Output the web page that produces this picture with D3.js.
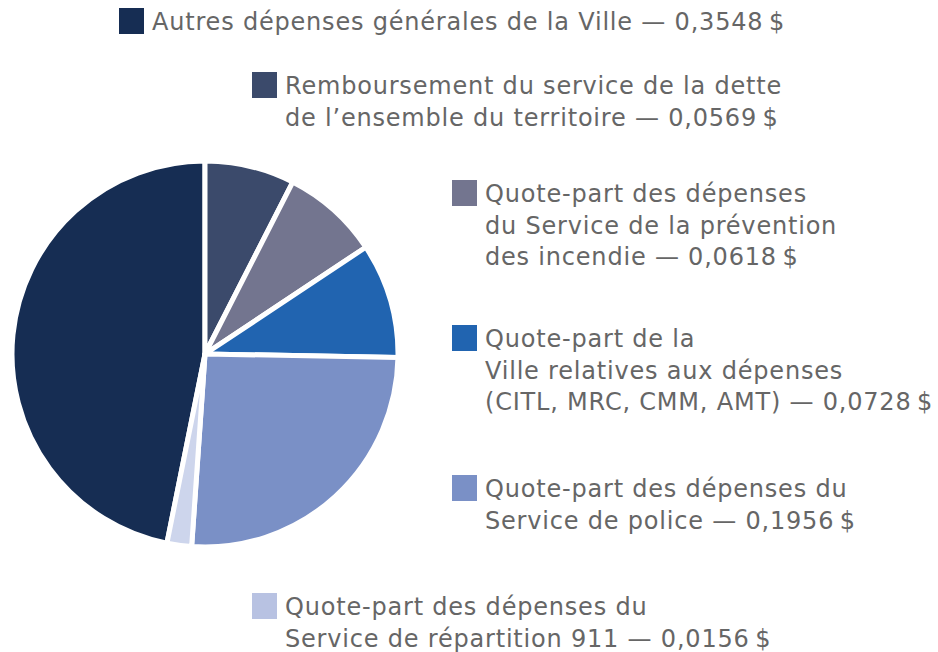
<!DOCTYPE html>
<html>
<head>
<meta charset="utf-8">
<script src="https://cdn.jsdelivr.net/npm/d3@7"></script>
<style>
  body { margin: 0; background: #fff; }
  text { font-family: "DejaVu Sans", sans-serif; fill: #666; }
</style>
</head>
<body>
<div id="chart"></div>
<script>
// categories, values and colours (legend order)
const categories = [
  ["Autres dépenses générales de la Ville — 0,3548\u202F$"],
  ["Remboursement du service de la dette", "de l’ensemble du territoire — 0,0569\u202F$"],
  ["Quote-part des dépenses", "du Service de la prévention", "des incendie — 0,0618\u202F$"],
  ["Quote-part de la", "Ville relatives aux dépenses", "(CITL, MRC, CMM, AMT) — 0,0728\u202F$"],
  ["Quote-part des dépenses du", "Service de police — 0,1956\u202F$"],
  ["Quote-part des dépenses du", "Service de répartition 911 — 0,0156\u202F$"]
];
const values = [0.3548, 0.0569, 0.0618, 0.0728, 0.1956, 0.0156];
const colors = ["#162d53", "#3b4a6b", "#73758f", "#2164b0", "#7a90c6", "#b8c2e2"];
const sliceColors = ["#162d53", "#3b4a6b", "#73758f", "#2164b0", "#7a90c6", "#cdd5ec"];

// legend placement (square top-left)
const legendPos = [[119, 8], [252, 72], [452, 180], [452, 325], [452, 475], [252, 593]];

const width = 938, height = 652;
const cx = 205, cy = 354, radius = 193;

const svg = d3.select("#chart").append("svg")
  .attr("width", width)
  .attr("height", height);

const data = values.map((v, i) => ({ i, value: v }));
const total = d3.sum(values);
const a0 = values[0] / total * 2 * Math.PI;

const pie = d3.pie()
  .sort(null)
  .value(d => d.value)
  .startAngle(-a0)
  .endAngle(2 * Math.PI - a0);

const arc = d3.arc().innerRadius(0).outerRadius(radius);

svg.append("g")
  .attr("transform", `translate(${cx},${cy})`)
  .selectAll("path")
  .data(pie(data))
  .join("path")
  .attr("d", arc)
  .attr("fill", d => sliceColors[d.data.i])
  .attr("stroke", "#fff")
  .attr("stroke-width", 5)
  .attr("stroke-linejoin", "round");

// legend
const lineH = 31.5;
const leg = svg.append("g").selectAll("g")
  .data(categories)
  .join("g")
  .attr("transform", (d, i) => `translate(${legendPos[i][0]},${legendPos[i][1]})`);

leg.append("rect")
  .attr("width", 25)
  .attr("height", 26)
  .attr("fill", (d, i) => colors[i]);

leg.append("text")
  .attr("x", 33)
  .attr("y", 22)
  .style("font-size", "24px")
  .style("letter-spacing", "0.8px")
  .selectAll("tspan")
  .data(d => d)
  .join("tspan")
  .attr("x", 33)
  .attr("dy", (d, j) => j === 0 ? 0 : lineH)
  .text(d => d);
</script>
</body>
</html>
